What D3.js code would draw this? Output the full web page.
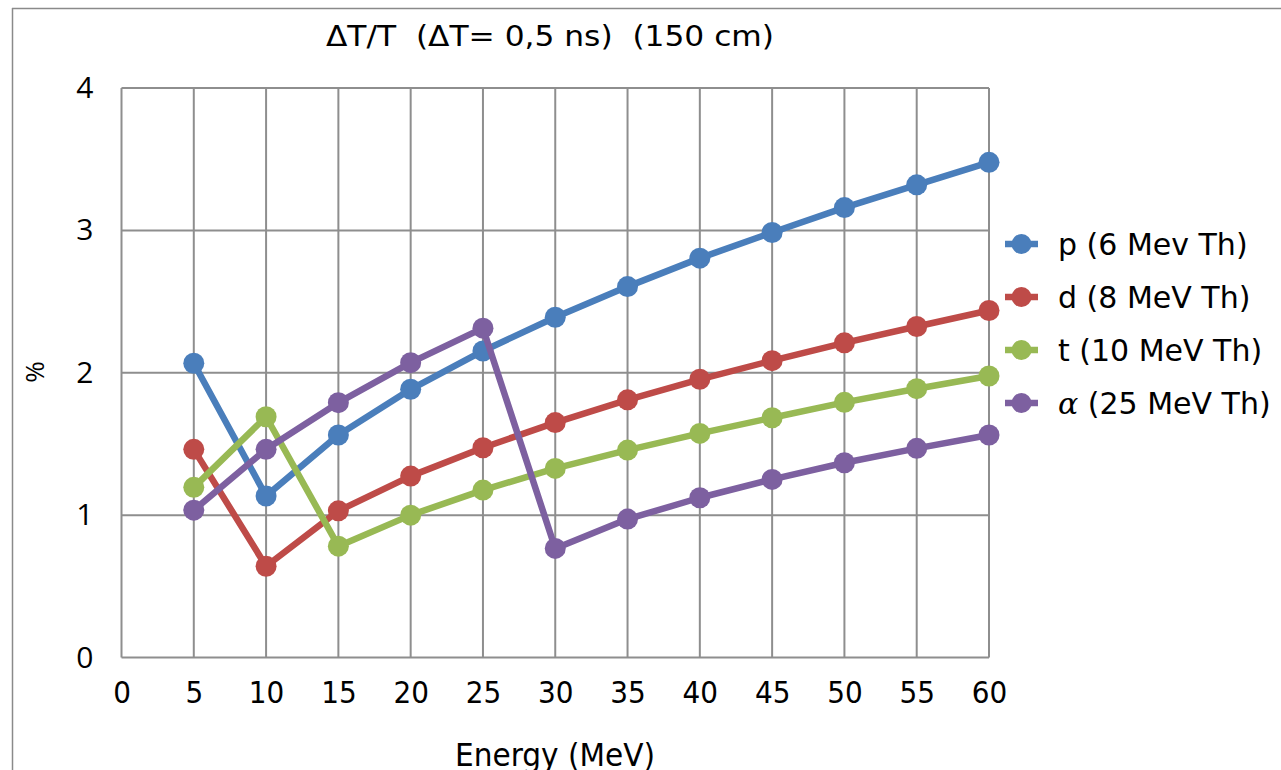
<!DOCTYPE html>
<html><head><meta charset="utf-8">
<script src="https://cdn.jsdelivr.net/npm/d3@7"></script>
<style>html,body{margin:0;padding:0;background:#fff;overflow:hidden}</style>
</head><body>
<svg id="c" width="1281" height="770"></svg>
<script>
const energies = [5,10,15,20,25,30,35,40,45,50,55,60];
const seriesNames = ["p (6 Mev Th)", "d (8 MeV Th)", "t (10 MeV Th)", "\u03B1 (25 MeV Th)"];
const pValues = [2.067,1.134,1.563,1.884,2.153,2.39,2.605,2.805,2.985,3.16,3.32,3.478];
const dValues = [1.462,0.641,1.03,1.274,1.473,1.65,1.81,1.954,2.085,2.21,2.325,2.437];
const tValues = [1.195,1.691,0.782,1.0,1.176,1.328,1.457,1.574,1.684,1.792,1.888,1.977];
const aValues = [1.035,1.462,1.79,2.071,2.313,0.766,0.972,1.122,1.251,1.368,1.469,1.5625];
const xTicks = [0,5,10,15,20,25,30,35,40,45,50,55,60];
const yTicks = [0,1,2,3,4];
const colors = ["#4a7ebb","#be4b48","#98b954","#7d60a0"];
const titleText = "\u0394T/T  (\u0394T= 0,5 ns)  (150 cm)";
const xTitle = "Energy (MeV)";
const yTitle = "%";

const svg = d3.select("#c");
const x = d3.scaleLinear().domain([0,60]).range([121.5,989]);
const y = d3.scaleLinear().domain([0,4]).range([657.5,88]);
const grid = "#8e8e8e";
const cond = "'DejaVu Sans Condensed','DejaVu Sans',sans-serif";

// outer frame
svg.append("line").attr("x1",12).attr("x2",1281).attr("y1",8.5).attr("y2",8.5).attr("stroke","#8a8a8a").attr("stroke-width",1.5);
svg.append("line").attr("x1",12.5).attr("x2",12.5).attr("y1",8).attr("y2",770).attr("stroke","#8a8a8a").attr("stroke-width",1.5);

// gridlines
const g = svg.append("g");
g.selectAll("line.h").data(yTicks).join("line")
  .attr("x1",x(0)).attr("x2",x(60)).attr("y1",d=>y(d)).attr("y2",d=>y(d))
  .attr("stroke",grid).attr("stroke-width",2);
g.selectAll("line.v").data(xTicks).join("line")
  .attr("y1",y(0)).attr("y2",y(4)).attr("x1",d=>x(d)).attr("x2",d=>x(d))
  .attr("stroke",grid).attr("stroke-width",2);

// axes labels via d3 axes
const xAxis = svg.append("g").attr("transform",`translate(0,${y(0)})`)
  .call(d3.axisBottom(x).tickValues(xTicks).tickSize(0).tickPadding(23).tickFormat(d3.format("d")));
xAxis.select(".domain").remove();
xAxis.selectAll("text").attr("font-family",cond).attr("font-size",31).attr("fill","#000");

const yAxis = svg.append("g").attr("transform",`translate(${x(0)},0)`)
  .call(d3.axisLeft(y).tickValues(yTicks).tickSize(0).tickPadding(28).tickFormat(d3.format("d")));
yAxis.select(".domain").remove();
yAxis.selectAll("text").attr("font-family","'Open Sans',sans-serif").attr("font-size",30).attr("fill","#000");

// titles
svg.append("text").attr("x",550).attr("y",46).attr("text-anchor","middle")
  .attr("font-family",cond).attr("font-size",29)
  .attr("textLength",448).attr("lengthAdjust","spacingAndGlyphs")
  .style("white-space","pre").attr("xml:space","preserve").text(titleText);
svg.append("text").attr("x",555).attr("y",766).attr("text-anchor","middle")
  .attr("font-family",cond).attr("font-size",32)
  .attr("textLength",200).attr("lengthAdjust","spacingAndGlyphs").text(xTitle);
svg.append("text").attr("transform","translate(44,372) rotate(-90)").attr("text-anchor","middle")
  .attr("font-family","'Open Sans',sans-serif").attr("font-size",26).text(yTitle);

// series
const allSeries = [pValues,dValues,tValues,aValues];
const line = d3.line().x((d,i)=>x(energies[i])).y(d=>y(d));
allSeries.forEach((vals,k)=>{
  svg.append("path").datum(vals).attr("d",line).attr("fill","none")
    .attr("stroke",colors[k]).attr("stroke-width",6.5).attr("stroke-linejoin","round");
  svg.append("g").selectAll("circle").data(vals).join("circle")
    .attr("cx",(d,i)=>x(energies[i])).attr("cy",d=>y(d)).attr("r",10.5).attr("fill",colors[k]);
});

// legend
const legY = [244,297,350,403];
const leg = svg.append("g");
seriesNames.forEach((name,k)=>{
  leg.append("line").attr("x1",1005).attr("x2",1038).attr("y1",legY[k]).attr("y2",legY[k])
    .attr("stroke",colors[k]).attr("stroke-width",6.5);
  leg.append("circle").attr("cx",1021.5).attr("cy",legY[k]).attr("r",10).attr("fill",colors[k]);
  const t = leg.append("text").attr("x",1058).attr("y",legY[k]+11)
    .attr("font-family","'DejaVu Sans',sans-serif").attr("font-size",30).attr("fill","#000");
  if(k===3){
    t.append("tspan").attr("font-family","'DejaVu Serif',serif").attr("font-style","italic").text("\u03B1");
    t.append("tspan").text(" (25 MeV Th)");
  } else {
    t.text(name);
  }
});
</script>
</body></html>
